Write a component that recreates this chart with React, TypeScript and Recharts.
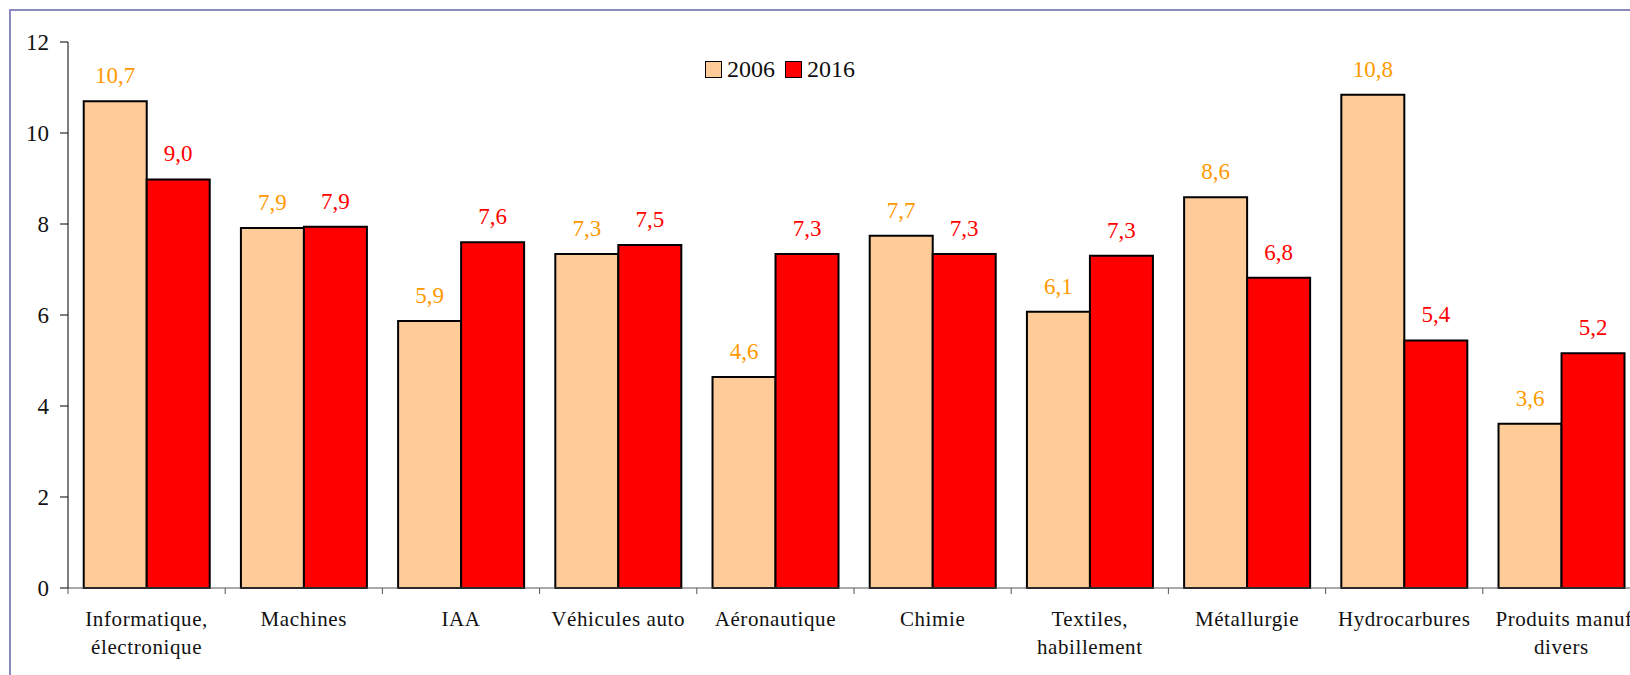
import { BarChart, Bar, XAxis, YAxis, LabelList } from "recharts";

const categories = [
  "Informatique,\nélectronique",
  "Machines",
  "IAA",
  "Véhicules auto",
  "Aéronautique",
  "Chimie",
  "Textiles,\nhabillement",
  "Métallurgie",
  "Hydrocarbures",
  "Produits manufacturés\ndivers",
];
const values2006 = [10.7, 7.91, 5.87, 7.34, 4.64, 7.74, 6.07, 8.59, 10.84, 3.61];
const values2016 = [8.98, 7.94, 7.6, 7.54, 7.34, 7.34, 7.3, 6.82, 5.44, 5.16];
const yTicks = [0, 2, 4, 6, 8, 10, 12];
const seriesNames = ["2006", "2016"];

const FONT = "Liberation Serif, Times New Roman, serif";
const LIGHT = "#FFCC99";
const RED = "#FF0000";
const ORANGE_TEXT = "#FF9900";

const CHART_W = 1700;
const CHART_H = 675;
const MARGIN = { top: 42, right: 60, left: 8, bottom: 7 };
const Y_AXIS_W = 60;
const BAND = (CHART_W - MARGIN.left - MARGIN.right - Y_AXIS_W) / categories.length;

const data = categories.map((name, i) => ({
  name,
  v2006: values2006[i],
  v2016: values2016[i],
}));

const fmt = (v: number) => v.toFixed(1).replace(".", ",");

function CategoryTick(props: any) {
  const { x, y, payload } = props;
  const lines = String(payload.value).split("\n");
  const axisY = y - 6;
  // long first line (last category) is pushed right, as in the source picture
  const wide = lines[0].length > 16;
  return (
    <g>
      <line x1={x - BAND / 2} y1={axisY} x2={x - BAND / 2} y2={axisY + 6} stroke="#555" strokeWidth={1} />
      {lines.map((l: string, i: number) => (
        <text
          key={i}
          x={wide && i === 0 ? x - BAND * 0.42 : x}
          y={y + 32 + i * 28}
          textAnchor={wide && i === 0 ? "start" : "middle"}
          fontFamily={FONT}
          fontSize={21}
          letterSpacing={0.6}
          fill="#111"
        >
          {l}
        </text>
      ))}
    </g>
  );
}

function ValueTick(props: any) {
  const { x, y, payload } = props;
  return (
    <text
      x={x}
      y={y + 8}
      textAnchor="end"
      fontFamily={FONT}
      fontSize={23}
      style={{ fontFamily: FONT, fontSize: 23 }}
      fill="#111"
    >
      {payload.value}
    </text>
  );
}

function makeLabel(color: string) {
  return (p: any) => {
    const { x, y, width, value } = p;
    return (
      <text
        x={Number(x) + Number(width) / 2}
        y={Number(y) - 18}
        textAnchor="middle"
        fontFamily={FONT}
        fontSize={23}
        fill={color}
      >
        {fmt(Number(value))}
      </text>
    );
  };
}

function LegendBox() {
  const colors = [LIGHT, RED];
  return (
    <div
      style={{
        position: "absolute",
        left: 705,
        top: 57,
        display: "flex",
        alignItems: "center",
        fontFamily: FONT,
        fontSize: 24,
        color: "#111",
      }}
    >
      {seriesNames.map((n, i) => (
        <div key={n} style={{ display: "flex", alignItems: "center", marginRight: 10 }}>
          <span
            style={{
              display: "inline-block",
              width: 15,
              height: 15,
              background: colors[i],
              border: "1.5px solid #000",
              marginRight: 5,
            }}
          />
          <span style={{ lineHeight: "24px" }}>{n}</span>
        </div>
      ))}
    </div>
  );
}

export default function App() {
  return (
    <div
      style={{
        position: "absolute",
        left: 0,
        top: 0,
        width: 1630,
        height: 675,
        overflow: "hidden",
        background: "#fff",
        fontFamily: FONT,
      }}
    >
      <div
        style={{
          position: "absolute",
          left: 9,
          top: 9,
          width: 1700,
          height: 700,
          borderTop: "2px solid #8a8abf",
          borderLeft: "2px solid #8a8abf",
        }}
      />
      <div style={{ position: "absolute", left: 0, top: 0 }}>
        <BarChart
          width={CHART_W}
          height={CHART_H}
          data={data}
          margin={MARGIN}
          barCategoryGap="10%"
          barGap={0}
          style={{ fontFamily: FONT }}
        >
          <XAxis
            dataKey="name"
            interval={0}
            height={80}
            tickSize={6}
            tickMargin={0}
            tickLine={false}
            axisLine={{ stroke: "#555", strokeWidth: 1 }}
            tick={<CategoryTick />}
          />
          <YAxis
            width={Y_AXIS_W}
            domain={[0, 12]}
            ticks={yTicks}
            interval={0}
            tickSize={8}
            tickMargin={11}
            axisLine={{ stroke: "#000", strokeWidth: 1 }}
            tickLine={{ stroke: "#000", strokeWidth: 1 }}
            tick={<ValueTick />}
          />
          <Bar dataKey="v2006" name="2006" fill={LIGHT} stroke="#000" strokeWidth={2} isAnimationActive={false}>
            <LabelList dataKey="v2006" content={makeLabel(ORANGE_TEXT)} />
          </Bar>
          <Bar dataKey="v2016" name="2016" fill={RED} stroke="#000" strokeWidth={2} isAnimationActive={false}>
            <LabelList dataKey="v2016" content={makeLabel(RED)} />
          </Bar>
        </BarChart>
      </div>
      <LegendBox />
    </div>
  );
}
